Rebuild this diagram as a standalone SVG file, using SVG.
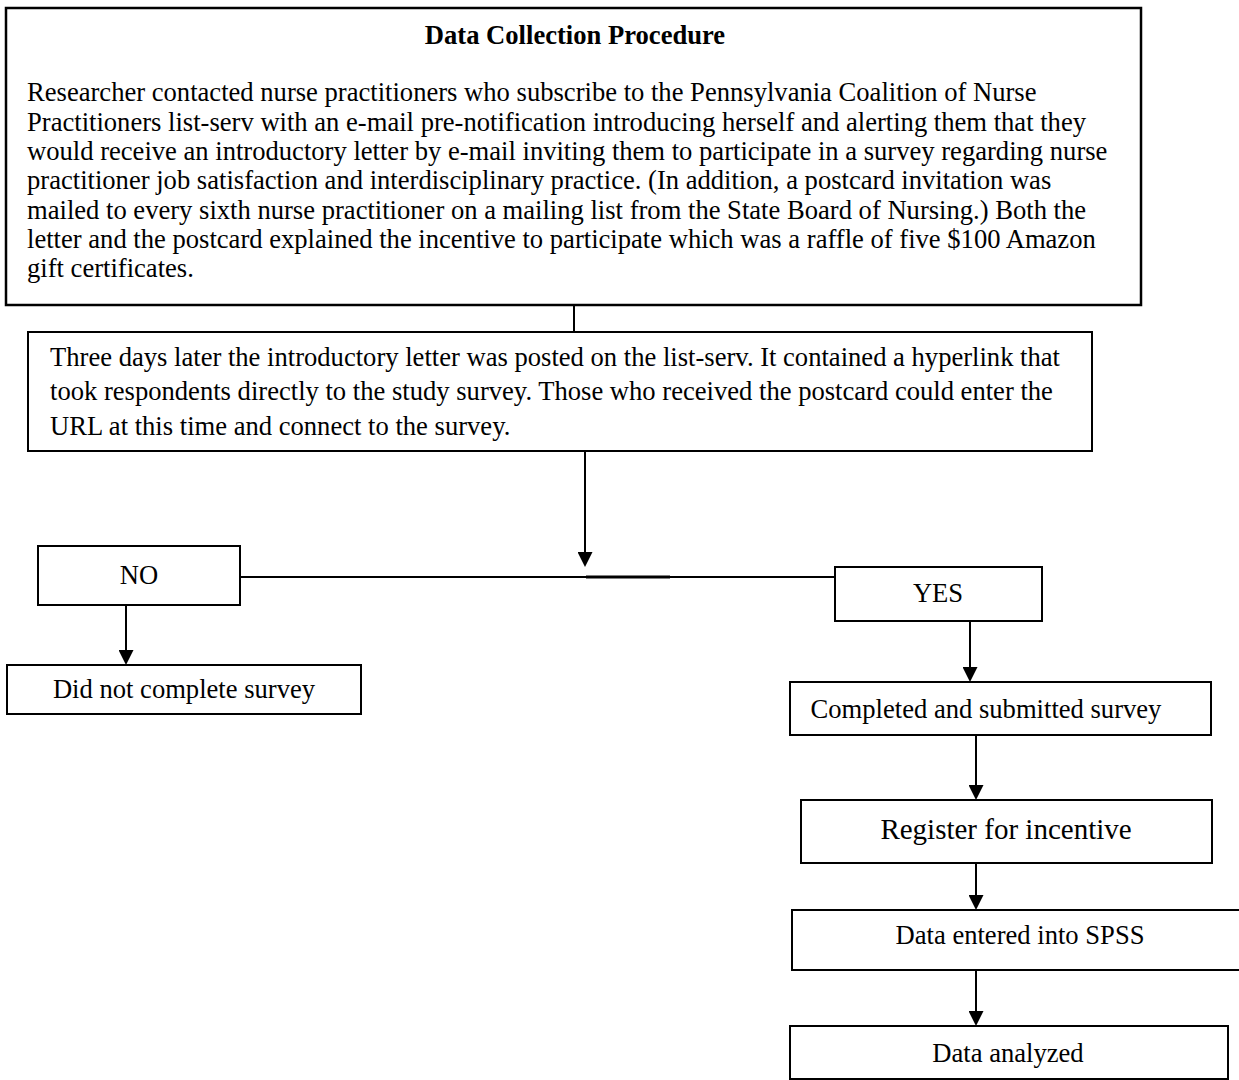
<svg xmlns="http://www.w3.org/2000/svg" width="1239" height="1080" viewBox="0 0 1239 1080">
<style>
  .box { fill: #ffffff; stroke: #000000; stroke-width: 2; }
  .thick { stroke-width: 2.5; }
  .t { font-family: "Liberation Serif", "Times New Roman", serif; font-size: 26.6px; fill: #000000; }
  .c { text-anchor: middle; }
  .b { font-weight: bold; }
  .big { font-size: 29px; }
  .ln { stroke: #000000; stroke-width: 2; fill: none; }
</style>
<defs>
  <marker id="ah" markerUnits="userSpaceOnUse" markerWidth="15" markerHeight="15" viewBox="0 0 15 15" refX="11" refY="7.5" orient="auto">
    <path d="M0,0 L15,7.5 L0,15 z" fill="#000000"/>
  </marker>
</defs>
<rect width="1239" height="1080" fill="#ffffff"/>

<g id="connectors">
  <line class="ln" x1="574" y1="305" x2="574" y2="332"/>
  <line class="ln" x1="585" y1="451" x2="585" y2="563" marker-end="url(#ah)"/>
  <line class="ln" x1="240" y1="577" x2="835" y2="577"/>
  <line class="ln" x1="586" y1="577" x2="670" y2="577" style="stroke-width:3"/>
  <line class="ln" x1="126" y1="605" x2="126" y2="661" marker-end="url(#ah)"/>
  <line class="ln" x1="970" y1="621" x2="970" y2="678" marker-end="url(#ah)"/>
  <line class="ln" x1="976" y1="735" x2="976" y2="796" marker-end="url(#ah)"/>
  <line class="ln" x1="976" y1="863" x2="976" y2="906" marker-end="url(#ah)"/>
  <line class="ln" x1="976" y1="970" x2="976" y2="1022" marker-end="url(#ah)"/>
</g>

<g id="node-procedure">
  <rect class="box thick" x="6" y="8" width="1135" height="297"/>
  <text class="t b c" x="575" y="44">Data Collection Procedure</text>
  <text class="t" x="27" y="101">Researcher contacted nurse practitioners who subscribe to the Pennsylvania Coalition of Nurse</text>
  <text class="t" x="27" y="130.5">Practitioners list-serv with an e-mail pre-notification introducing herself and alerting them that they</text>
  <text class="t" x="27" y="160">would receive an introductory letter by e-mail inviting them to participate in a survey regarding nurse</text>
  <text class="t" x="27" y="189">practitioner job satisfaction and interdisciplinary practice. (In addition, a postcard invitation was</text>
  <text class="t" x="27" y="218.5">mailed to every sixth nurse practitioner on a mailing list from the State Board of Nursing.) Both the</text>
  <text class="t" x="27" y="248">letter and the postcard explained the incentive to participate which was a raffle of five $100 Amazon</text>
  <text class="t" x="27" y="277">gift certificates.</text>
</g>

<g id="node-letter">
  <rect class="box" x="28" y="332" width="1064" height="119"/>
  <text class="t" x="50" y="366">Three days later the introductory letter was posted on the list-serv. It contained a hyperlink that</text>
  <text class="t" x="50" y="400">took respondents directly to the study survey. Those who received the postcard could enter the</text>
  <text class="t" x="50" y="435">URL at this time and connect to the survey.</text>
</g>

<g id="node-no">
  <rect class="box" x="38" y="546" width="202" height="59"/>
  <text class="t c" x="139" y="584">NO</text>
</g>

<g id="node-did-not">
  <rect class="box" x="7" y="665" width="354" height="49"/>
  <text class="t c" x="184" y="698">Did not complete survey</text>
</g>

<g id="node-yes">
  <rect class="box" x="835" y="567" width="207" height="54"/>
  <text class="t c" x="938" y="602">YES</text>
</g>

<g id="node-completed">
  <rect class="box" x="790" y="682" width="421" height="53"/>
  <text class="t c" x="986" y="718">Completed and submitted survey</text>
</g>

<g id="node-register">
  <rect class="box" x="801" y="800" width="411" height="63"/>
  <text class="t c big" x="1006" y="839">Register for incentive</text>
</g>

<g id="node-spss">
  <rect class="box" x="792" y="910" width="460" height="60"/>
  <text class="t c" x="1020" y="944">Data entered into SPSS</text>
</g>

<g id="node-analyzed">
  <rect class="box" x="790" y="1026" width="438" height="53"/>
  <text class="t c" x="1008" y="1062">Data analyzed</text>
</g>
</svg>
